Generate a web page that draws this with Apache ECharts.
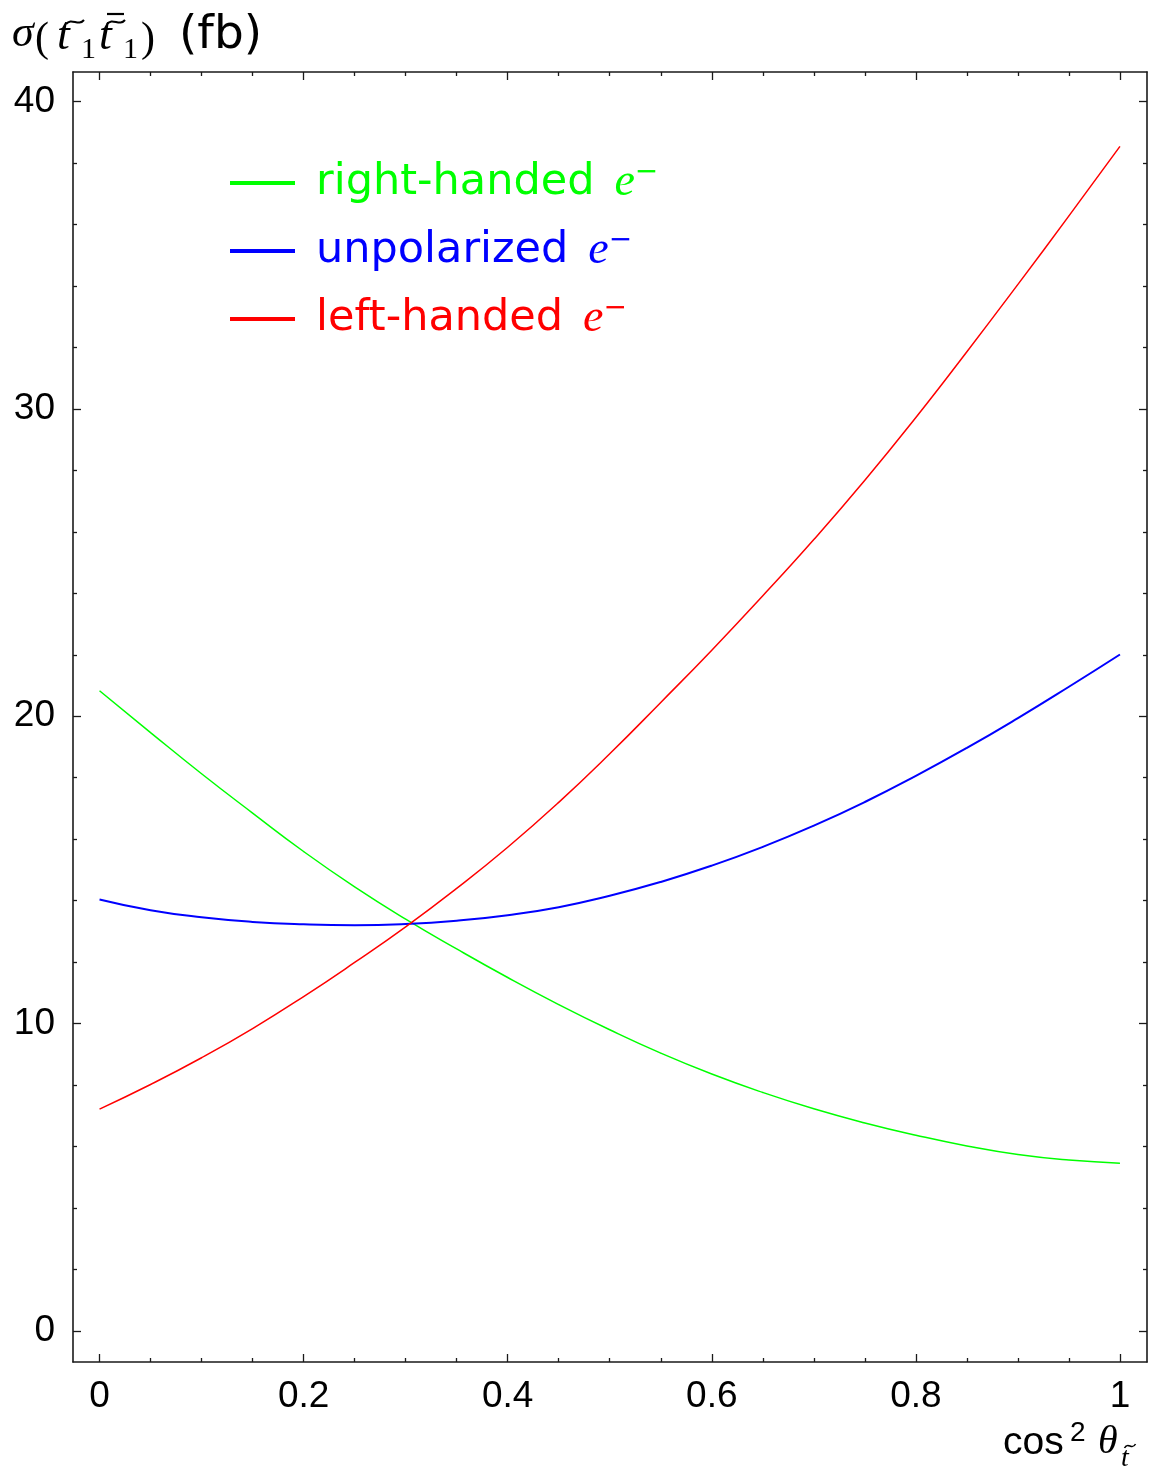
<!DOCTYPE html>
<html>
<head>
<meta charset="utf-8">
<script src="https://cdn.jsdelivr.net/npm/echarts@6/dist/echarts.min.js"></script>
<style>
  html, body { margin: 0; padding: 0; background: #ffffff; }
  #chart { width: 1149px; height: 1468px; }
</style>
</head>
<body>
<div id="chart"></div>
<script>
// stop-pair cross section vs. stop mixing angle, for three beam polarisations
const cos2Theta = [0, 0.05, 0.10, 0.15, 0.20, 0.25, 0.30, 0.35, 0.40, 0.45, 0.50,
                   0.55, 0.60, 0.65, 0.70, 0.75, 0.80, 0.85, 0.90, 0.95, 1.00];
const rightHanded = [20.83, 19.47, 18.13, 16.85, 15.60, 14.45, 13.40, 12.43, 11.50, 10.62, 9.80,
                     9.04, 8.36, 7.76, 7.23, 6.77, 6.37, 6.02, 5.74, 5.56, 5.46];
const unpolarized = [14.04, 13.69, 13.46, 13.31, 13.23, 13.20, 13.24, 13.35, 13.53, 13.79, 14.16,
                     14.61, 15.14, 15.75, 16.44, 17.21, 18.06, 18.97, 19.94, 20.96, 22.01];
const leftHanded = [7.22, 8.02, 8.89, 9.84, 10.88, 11.99, 13.15, 14.40, 15.74, 17.20, 18.78,
                    20.45, 22.15, 23.92, 25.75, 27.68, 29.72, 31.86, 34.05, 36.28, 38.54];

const seriesNames = ['right-handed', 'unpolarized', 'left-handed'];
const seriesColors = ['#00ff00', '#0000ff', '#ff0000'];

const xMajorTicks = [0, 0.2, 0.4, 0.6, 0.8, 1];
const xTickLabels = ['0', '0.2', '0.4', '0.6', '0.8', '1'];
const xMinorTicks = [0.05, 0.1, 0.15, 0.25, 0.3, 0.35, 0.45, 0.5, 0.55, 0.65, 0.7, 0.75, 0.85, 0.9, 0.95];
const yMajorTicks = [0, 10, 20, 30, 40];
const yTickLabels = ['0', '10', '20', '30', '40'];
const yMinorTicks = [2, 4, 6, 8, 12, 14, 16, 18, 22, 24, 26, 28, 32, 34, 36, 38];

const X_MIN = -0.026, X_MAX = 1.0265;
const Y_MIN = -1.008, Y_MAX = 40.96;
const FRAME = '#1a1a1a';

function pairs(xs, ys) { return xs.map((x, i) => [x, ys[i]]); }

function frameAxis(kind, position, ticks, tickLen, showLine, labels) {
  const isX = kind === 'x';
  const axis = {
    type: 'value',
    position: position,
    min: isX ? X_MIN : Y_MIN,
    max: isX ? X_MAX : Y_MAX,
    splitLine: { show: false },
    axisLine: { show: showLine, onZero: false, lineStyle: { color: FRAME, width: 1.6 } },
    axisTick: { show: true, inside: true, length: tickLen, customValues: ticks,
                lineStyle: { color: FRAME, width: 1.3 } },
    axisLabel: { show: false }
  };
  if (labels) {
    axis.axisLabel = {
      show: true,
      customValues: ticks,
      formatter: v => {
        const i = ticks.findIndex(t => Math.abs(t - v) < 1e-9);
        return i >= 0 ? labels[i] : '';
      },
      fontFamily: '"Liberation Sans", Arial, sans-serif',
      fontSize: 37,
      color: '#000',
      margin: isX ? 16 : 18
    };
  }
  return axis;
}

const xAxes = [
  frameAxis('x', 'bottom', xMajorTicks, 8, true, xTickLabels),
  frameAxis('x', 'bottom', xMinorTicks, 4, false, null),
  frameAxis('x', 'top', xMajorTicks, 8, true, null),
  frameAxis('x', 'top', xMinorTicks, 4, false, null)
];
const yAxes = [
  frameAxis('y', 'left', yMajorTicks, 8, true, yTickLabels),
  frameAxis('y', 'left', yMinorTicks, 4, false, null),
  frameAxis('y', 'right', yMajorTicks, 8, true, null),
  frameAxis('y', 'right', yMinorTicks, 4, false, null)
];

const seriesValues = [rightHanded, unpolarized, leftHanded];
const seriesWidths = [1.5, 2, 1.5];
const series = seriesValues.map((vals, i) => ({
  name: seriesNames[i],
  type: 'line',
  xAxisIndex: 0,
  yAxisIndex: 0,
  data: pairs(cos2Theta, vals),
  showSymbol: false,
  smooth: 0.5,
  color: seriesColors[i],
  lineStyle: { color: seriesColors[i], width: seriesWidths[i] },
  emphasis: { disabled: true }
}));

const serif = '"Liberation Serif", "DejaVu Serif", serif';
const sans = '"DejaVu Sans", sans-serif';
const helv = '"Liberation Sans", Arial, sans-serif';
function txt(text, x, y, font, align) {
  return { type: 'text', x: x, y: y,
           style: { text: text, font: font, fill: '#000', align: align || 'left', verticalAlign: 'middle' } };
}
// small wavy accent drawn above a letter
function tilde(cx, cy, w, lw) {
  const h = w / 2;
  return { type: 'bezierCurve',
           shape: { x1: cx - h, y1: cy + 2, cpx1: cx - h * 0.35, cpy1: cy - 5, cpx2: cx + h * 0.35, cpy2: cy + 5, x2: cx + h, y2: cy - 2 },
           style: { stroke: '#000', lineWidth: lw || 2, fill: null } };
}

const chart = echarts.init(document.getElementById('chart'), null, { renderer: 'canvas' });
chart.setOption({
  animation: false,
  backgroundColor: '#ffffff',
  grid: { left: 73, right: 2, top: 72, bottom: 106, containLabel: false },
  xAxis: xAxes,
  yAxis: yAxes,
  legend: {
    orient: 'vertical',
    left: 225,
    top: 154,
    icon: 'rect',
    itemWidth: 65,
    itemHeight: 4,
    itemGap: 20,
    selectedMode: false,
    data: seriesNames.map((n, i) => ({ name: n, textStyle: { color: seriesColors[i] } })),
    formatter: name => '{n|' + name + '}{e|e}{m|\u2212}',
    textStyle: {
      padding: [0, 0, 0, 16],
      lineHeight: 48,
      rich: {
        n: { fontFamily: sans, fontSize: 43, lineHeight: 48 },
        e: { fontFamily: serif, fontStyle: 'italic', fontSize: 46, lineHeight: 48, padding: [0, 0, 0, 20] },
        m: { fontFamily: sans, fontSize: 28, lineHeight: 26, verticalAlign: 'top' }
      }
    }
  },
  graphic: [
    // y-axis title: sigma(t1 t1bar) (fb)
    txt('\u03C3', 12, 34, 'italic 44px ' + serif),
    txt('(', 35, 40, '42px ' + serif),
    txt('t', 57, 37, 'italic 46px ' + serif),
    tilde(75, 22, 18),
    txt('1', 81, 50, '30px ' + serif),
    txt('t', 99, 37, 'italic 46px ' + serif),
    tilde(116, 22, 18),
    { type: 'line', shape: { x1: 107, y1: 14, x2: 124, y2: 14 }, style: { stroke: '#000', lineWidth: 2.2 } },
    txt('1', 123, 50, '30px ' + serif),
    txt(')', 141, 40, '42px ' + serif),
    txt('(fb)', 179, 36, '47px ' + sans),
    // x-axis title: cos^2 theta_t
    txt('cos', 1003, 1443, '39px ' + helv),
    txt('2', 1070, 1433, '28px ' + helv),
    txt('\u03B8', 1098, 1442, 'italic 40px ' + serif),
    txt('t', 1121, 1459, 'italic 28px ' + serif),
    tilde(1130, 1446, 11, 1.6)
  ],
  series: series
});
</script>
</body>
</html>
